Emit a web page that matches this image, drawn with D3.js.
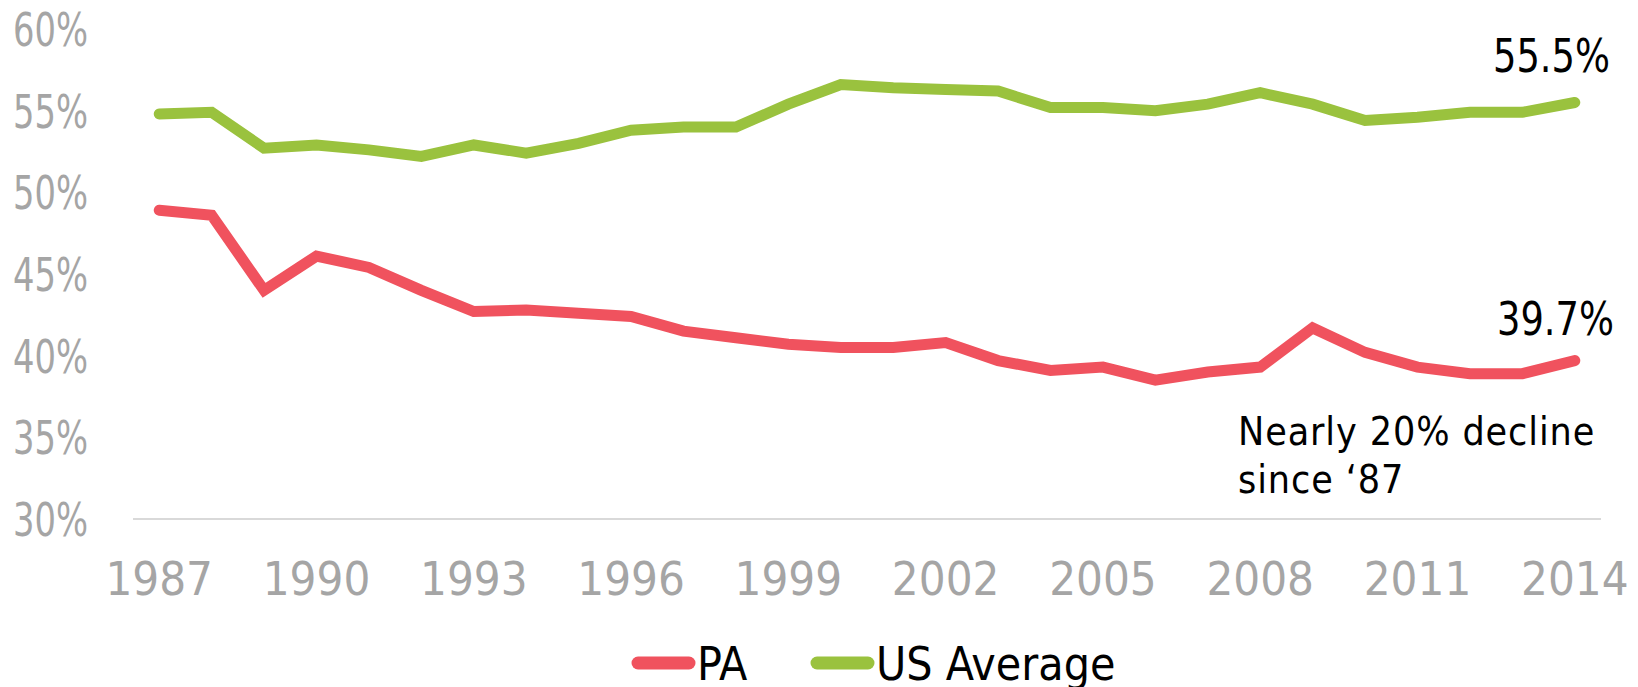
<!DOCTYPE html>
<html>
<head>
<meta charset="utf-8">
<script src="https://cdn.jsdelivr.net/npm/d3@7"></script>
<style>
  html, body { margin: 0; padding: 0; background: #fff; }
  svg { display: block; }
  .tick-label { font-family: "DejaVu Sans Condensed", "DejaVu Sans", sans-serif; fill: #a5a5a5; }
  .note { font-family: "DejaVu Sans Condensed", "DejaVu Sans", sans-serif; fill: #000; }
</style>
</head>
<body>
<div id="chart"></div>
<script>

// years on the x axis
var years = d3.range(1987, 2015).map(String);

// PA vs US average (percent)
var paValues = [48.9, 48.6, 44.0, 46.1, 45.4, 44.0, 42.7, 42.8, 42.6, 42.4,
                41.5, 41.1, 40.7, 40.5, 40.5, 40.8, 39.7, 39.1, 39.3, 38.5,
                39.0, 39.3, 41.7, 40.2, 39.3, 38.9, 38.9, 39.7];

var usValues = [54.8, 54.9, 52.7, 52.9, 52.6, 52.2, 52.9, 52.4, 53.0, 53.8,
                54.0, 54.0, 55.4, 56.6, 56.4, 56.3, 56.2, 55.2, 55.2, 55.0,
                55.4, 56.1, 55.4, 54.4, 54.6, 54.9, 54.9, 55.5];

var yTicks = [30, 35, 40, 45, 50, 55, 60];
var xTickYears = ["1987", "1990", "1993", "1996", "1999", "2002", "2005", "2008", "2011", "2014"];

var seriesNames = ["PA", "US Average"];
var seriesColors = ["#f0525e", "#9ac23e"];
var noteLines = ["Nearly 20% decline", "since \u201887"];

var width = 1638, height = 687;

var margin = { top: 29, left: 133, right: 37, bottom: 168 };

var svg = d3.select("#chart").append("svg")
    .attr("width", width)
    .attr("height", height);

var x = d3.scalePoint()
    .domain(years)
    .range([margin.left, width - margin.right])
    .padding(0.5);

var y = d3.scaleLinear()
    .domain([30, 60])
    .range([height - margin.bottom, margin.top]);

// baseline only, no other gridlines
svg.append("line")
    .attr("x1", margin.left)
    .attr("x2", width - margin.right)
    .attr("y1", y(30))
    .attr("y2", y(30))
    .attr("stroke", "#d9d9d9")
    .attr("stroke-width", 2);

// y labels
svg.selectAll(".ylab")
    .data(yTicks)
    .enter().append("text")
    .attr("class", "tick-label ylab")
    .attr("x", 88)
    .attr("y", function(d) { return y(d); })
    .attr("dy", "0.36em")
    .attr("text-anchor", "end")
    .attr("textLength", 75)
    .attr("lengthAdjust", "spacingAndGlyphs")
    .style("font-size", "47px")
    .text(function(d) { return d + "%"; });

// x labels
svg.selectAll(".xlab")
    .data(xTickYears)
    .enter().append("text")
    .attr("class", "tick-label xlab")
    .attr("x", function(d) { return x(d); })
    .attr("y", 595)
    .attr("text-anchor", "middle")
    .style("font-size", "47px")
    .text(function(d) { return d; });

var line = d3.line()
    .x(function(d, i) { return x(years[i]); })
    .y(function(d) { return y(d); });

[paValues, usValues].forEach(function(vals, k) {
    svg.append("path")
        .datum(vals)
        .attr("d", line)
        .attr("fill", "none")
        .attr("stroke", seriesColors[k])
        .attr("stroke-width", 11)
        .attr("stroke-linecap", "round")
        .attr("stroke-linejoin", "miter");
});

// end value labels
svg.append("text")
    .attr("class", "note")
    .attr("x", 1610)
    .attr("y", 72)
    .attr("text-anchor", "end")
    .attr("textLength", 117)
    .attr("lengthAdjust", "spacingAndGlyphs")
    .style("font-size", "46px")
    .text(usValues[usValues.length - 1].toFixed(1) + "%");

svg.append("text")
    .attr("class", "note")
    .attr("x", 1614)
    .attr("y", 335)
    .attr("text-anchor", "end")
    .attr("textLength", 117)
    .attr("lengthAdjust", "spacingAndGlyphs")
    .style("font-size", "46px")
    .text(paValues[paValues.length - 1].toFixed(1) + "%");

var note = svg.append("text")
    .attr("class", "note")
    .attr("x", 1238)
    .attr("y", 445)
    .style("font-size", "39px")
    .style("letter-spacing", "0.9px");
note.selectAll("tspan")
    .data(noteLines)
    .enter().append("tspan")
    .attr("x", 1238)
    .attr("dy", function(d, i) { return i ? 48 : 0; })
    .text(function(d) { return d; });

// legend
var legendX = [632, 811];
var leg = svg.selectAll(".leg")
    .data(seriesNames)
    .enter().append("g")
    .attr("class", "leg")
    .attr("transform", function(d, i) { return "translate(" + legendX[i] + ",663)"; });

leg.append("line")
    .attr("x1", 6).attr("x2", 57)
    .attr("stroke", function(d, i) { return seriesColors[i]; })
    .attr("stroke-width", 13)
    .attr("stroke-linecap", "round");

leg.append("text")
    .attr("class", "note")
    .attr("x", 65)
    .attr("y", 17)
    .style("font-size", "46px")
    .text(function(d) { return d; });

</script>
</body>
</html>
